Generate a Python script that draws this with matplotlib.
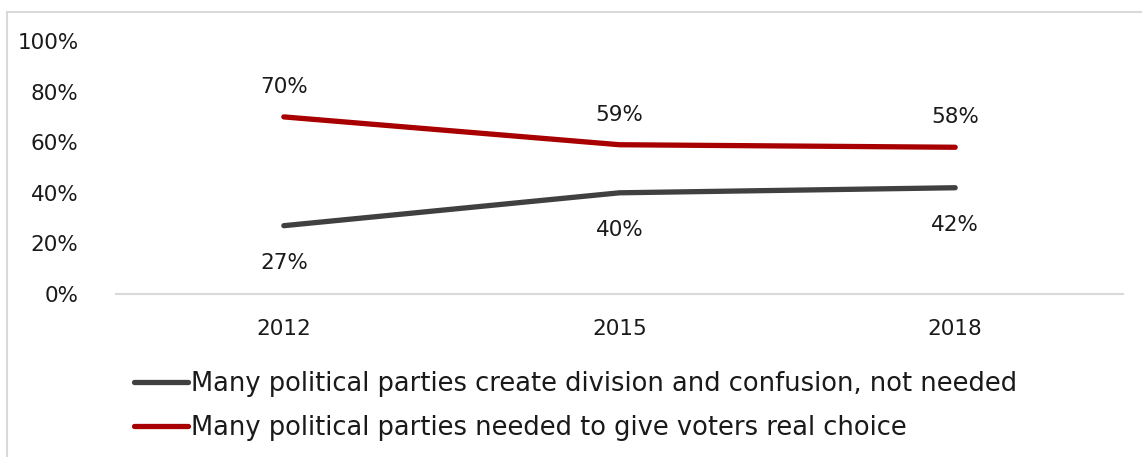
import matplotlib.pyplot as plt
from matplotlib.lines import Line2D
from matplotlib.patches import Rectangle

# Datos de la encuesta (porcentaje)
years = ['2012', '2015', '2018']
division = [27, 40, 42]
choice = [70, 59, 58]
label_division = 'Many political parties create division and confusion, not needed'
label_choice = 'Many political parties needed to give voters real choice'

gray = '#404040'
red = '#A80000'

plt.rcParams['font.family'] = ['DejaVu Sans']
W, H = 1142, 457
fig = plt.figure(figsize=(W / 100, H / 100), dpi=100)

# Marco exterior
fig.patches.append(Rectangle((7 / W, -0.1), 1.2, 1 - 12 / H + 0.1, transform=fig.transFigure,
                             fill=False, edgecolor='#D9D9D9', linewidth=1.5))

ax = fig.add_axes([116 / W, 1 - 294 / H, (1123 - 116) / W, (294 - 41) / H])
x = [i + 0.5 for i in range(len(years))]

ax.plot(x, division, color=gray, linewidth=3.8, solid_capstyle='round')
ax.plot(x, choice, color=red, linewidth=3.8, solid_capstyle='round')

fs = 15.5
for xi, v in zip(x, division):
    ax.annotate(f'{v}%', (xi, v), xytext=(0, -37), textcoords='offset pixels',
                ha='center', va='center', fontsize=fs, color='#1a1a1a')
for xi, v in zip(x, choice):
    ax.annotate(f'{v}%', (xi, v), xytext=(0, 30), textcoords='offset pixels',
                ha='center', va='center', fontsize=fs, color='#1a1a1a')

ax.set_xlim(0, 3)
ax.set_ylim(0, 100)
ax.set_xticks(x)
ax.set_xticklabels(years, fontsize=fs, color='#1a1a1a')
ax.set_yticks(range(0, 101, 20))
ax.set_yticklabels([f'{v}%' for v in range(0, 101, 20)], fontsize=fs, color='#1a1a1a')
ax.tick_params(length=0)
ax.tick_params(axis='y', pad=27)
ax.tick_params(axis='x', pad=18)
for s in ['top', 'right', 'left']:
    ax.spines[s].set_visible(False)
ax.spines['bottom'].set_color('#D9D9D9')
ax.spines['bottom'].set_linewidth(1.5)
ax.patch.set_visible(False)

# Leyenda
handles = [Line2D([], [], color=gray, linewidth=3.8, solid_capstyle='round'),
           Line2D([], [], color=red, linewidth=3.8, solid_capstyle='round')]
fig.legend(handles, [label_division, label_choice], loc='upper left',
           bbox_to_anchor=(121 / W, 1 - 358 / H), frameon=False, fontsize=18.5,
           handlelength=2.1, handletextpad=0.12, labelspacing=0.72,
           labelcolor='#1a1a1a', borderpad=0)

fig.savefig('out.png', dpi=100)
